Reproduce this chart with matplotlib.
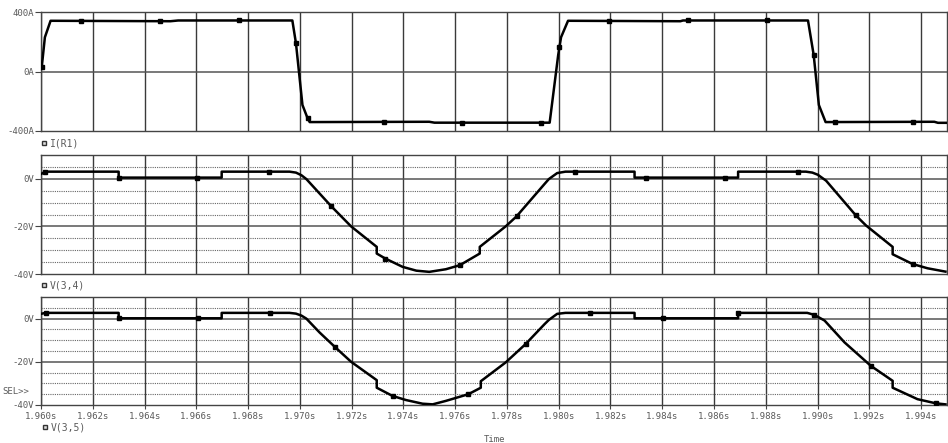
import numpy as np
import matplotlib
matplotlib.use("Agg")
from matplotlib import pyplot as plt
from matplotlib.lines import Line2D

# ---- data (time in s) ----
i_t = [1.96003, 1.96015, 1.96037, 1.96500, 1.96530, 1.96971, 1.96985, 1.97010,
       1.97030, 1.97038, 1.97500, 1.97520, 1.97965, 1.97998, 1.98009, 1.98036,
       1.98470, 1.98480, 1.98963, 1.98985, 1.99005, 1.99031, 1.99451, 1.99465, 1.99500]
i_v = [32, 230, 341, 338, 343, 343, 189, -225,
       -315, -340, -338, -344, -344, 111, 230, 341,
       338, 343, 343, 111, -225, -340, -338, -345, -345]
i_mark = [1.96003, 1.96156, 1.96460, 1.96763, 1.96985, 1.97030, 1.97324, 1.97628,
          1.97932, 1.98003, 1.98196, 1.98498, 1.98804, 1.98985, 1.99066, 1.99367]

v34_t = [1.96000, 1.96017, 1.96300, 1.96300, 1.96698, 1.96698, 1.96960, 1.96985,
         1.97006, 1.97025, 1.97121, 1.97198, 1.97297, 1.97297, 1.97330, 1.97397,
         1.97450, 1.97500, 1.97564, 1.97618, 1.97695, 1.97695, 1.97795, 1.97837,
         1.97945, 1.97962, 1.97994, 1.98026, 1.98293, 1.98293, 1.98693, 1.98693,
         1.98955, 1.98980, 1.99001, 1.99033, 1.99148, 1.99187, 1.99290, 1.99290,
         1.99367, 1.99425, 1.99494]
v34_v = [2.0, 3.0, 3.0, 0.5, 0.5, 3.0, 3.0, 2.6,
         1.5, -0.1, -11.5, -20.0, -28.6, -31.4, -33.5, -37.0,
         -38.6, -39.1, -38.0, -36.3, -31.4, -28.6, -20.0, -15.8,
         -2.2, -0.1, 2.4, 3.0, 3.0, 0.5, 0.5, 3.0,
         3.0, 2.6, 1.7, -0.8, -15.4, -19.6, -28.6, -31.7,
         -35.8, -37.6, -39.0]
v34_mark = [1.96017, 1.96301, 1.96601, 1.96881, 1.97121, 1.97330, 1.97618, 1.97837,
            1.98061, 1.98339, 1.98642, 1.98924, 1.99148, 1.99367]

v35_t = [1.96000, 1.96017, 1.96300, 1.96300, 1.96698, 1.96698, 1.96960, 1.96985,
         1.97006, 1.97025, 1.97076, 1.97137, 1.97198, 1.97297, 1.97297, 1.97358,
         1.97410, 1.97474, 1.97513, 1.97564, 1.97651, 1.97699, 1.97699, 1.97795,
         1.97872, 1.97945, 1.97962, 1.97994, 1.98026, 1.98293, 1.98293, 1.98693,
         1.98693, 1.98960, 1.98988, 1.99027, 1.99104, 1.99206, 1.99290, 1.99290,
         1.99386, 1.99456, 1.99494]
v35_v = [2.2, 2.65, 2.65, 0.15, 0.15, 2.65, 2.65, 2.3,
         1.4, 0.0, -6.4, -13.3, -20.0, -28.5, -32.0, -35.8,
         -37.7, -39.4, -39.7, -38.1, -35.0, -32.0, -29.0, -20.3,
         -11.8, -2.6, -0.6, 2.2, 2.65, 2.65, 0.15, 0.15,
         2.65, 2.65, 1.7, -0.9, -11.0, -21.9, -28.8, -32.0,
         -37.3, -39.2, -39.7]
v35_mark = [1.96021, 1.96302, 1.96608, 1.96886, 1.97137, 1.97358, 1.97651, 1.97872,
            1.98122, 1.98402, 1.98694, 1.98988, 1.99206, 1.99456]

x_ticks = [1.960, 1.962, 1.964, 1.966, 1.968, 1.970, 1.972, 1.974, 1.976,
           1.978, 1.980, 1.982, 1.984, 1.986, 1.988, 1.990, 1.992, 1.994]
x_labels = ["%.3fs" % t for t in x_ticks]

FONT = "DejaVu Sans Mono"
TXT = "#5a5a5a"
GRID = "#3a3a3a"

W, H = 948, 443
fig = plt.figure(figsize=(W / 100, H / 100), dpi=100)


def px_axes(top, bottom, left=41, right=947):
    return fig.add_axes([left / W, 1 - bottom / H, (right - left) / W, (bottom - top) / H])


def style(ax, yticks, ylabels, hgrid_solid, hgrid_dot, show_x):
    ax.set_xlim(1.960, 1.995)
    ax.set_xticks(x_ticks)
    for t in x_ticks:
        ax.axvline(t, color=GRID, lw=1.0, zorder=1)
    for y in hgrid_solid:
        ax.axhline(y, color="#555555", lw=1.1, zorder=1)
    for y in hgrid_dot:
        ax.axhline(y, color="#666666", lw=0.8, ls=(0, (1, 1)), zorder=1)
    ax.set_yticks(yticks)
    ax.set_yticklabels(ylabels, fontfamily=FONT, fontsize=6.5, color=TXT)
    if show_x:
        ax.set_xticklabels(x_labels, fontfamily=FONT, fontsize=6.5, color=TXT)
    else:
        ax.set_xticklabels([])
    ax.tick_params(axis="y", length=4, width=0.8, color="#444444", pad=1)
    ax.tick_params(axis="x", length=3 if show_x else 0, width=0.8, color="#444444", pad=2)
    for s in ax.spines.values():
        s.set_color("#444444")
        s.set_linewidth(1.0)


def trace(ax, t, v, marks):
    ax.plot(t, v, color="black", lw=1.8, zorder=3, solid_joinstyle="round")
    ax.plot(marks, np.interp(marks, t, v), ls="none", marker="s", ms=3.5,
            color="black", zorder=4)


def legend_label(x, y, text):
    fig.add_artist(Line2D([x / W], [1 - y / H], marker="s", ms=3.5, mfc="#dddddd",
                          mec="#333333", mew=1.0, transform=fig.transFigure))
    fig.text((x + 6) / W, 1 - y / H, text, fontfamily=FONT, fontsize=7,
             color=TXT, va="center", ha="left")


# top panel: I(R1)
ax1 = px_axes(12, 131)
ax1.set_ylim(-400, 400)
style(ax1, [400, 0, -400], ["400A", "0A", "-400A"], [0], [], False)
trace(ax1, i_t, i_v, i_mark)

# middle panel: V(3,4)
ax2 = px_axes(155, 274)
ax2.set_ylim(-40, 10)
style(ax2, [0, -20, -40], ["0V", "-20V", "-40V"], [0, -20],
      [5, -5, -10, -15, -25, -30, -35], False)
trace(ax2, v34_t, v34_v, v34_mark)

# bottom panel: V(3,5)
ax3 = px_axes(297, 405)
ax3.set_ylim(-40, 10)
style(ax3, [0, -20, -40], ["0V", "-20V", "-40V"], [0, -20],
      [5, -5, -10, -15, -25, -30, -35], True)
trace(ax3, v35_t, v35_v, v35_mark)

legend_label(44, 143, "I(R1)")
legend_label(44, 285, "V(3,4)")
legend_label(45, 427, "V(3,5)")

fig.text(2 / W, 1 - 392 / H, "SEL>>", fontfamily=FONT, fontsize=6.5, color=TXT,
         va="center", ha="left")
fig.text(495 / W, 1 - 439 / H, "Time", fontfamily=FONT, fontsize=6.5, color=TXT,
         va="center", ha="center")

fig.savefig("out.png", dpi=100)
